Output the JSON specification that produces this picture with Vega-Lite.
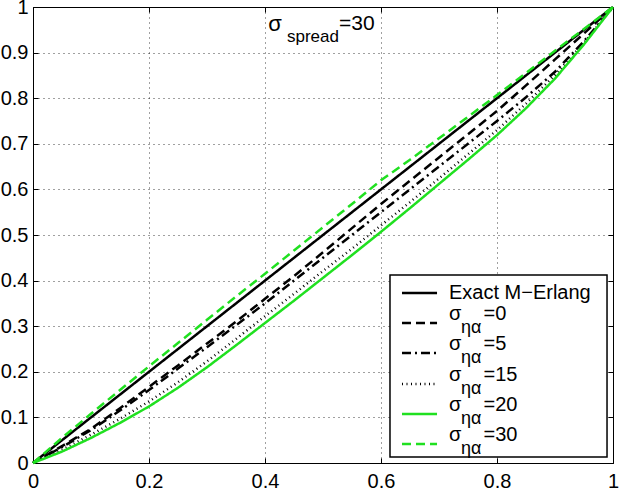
{
  "$schema": "https://vega.github.io/schema/vega-lite/v6.json",
  "width": 580,
  "height": 456,
  "autosize": {"type": "none"},
  "padding": {"left": 33, "top": 7, "right": 7, "bottom": 33},
  "background": "white",
  "config": {
    "font": "Liberation Sans",
    "view": {"stroke": "#000", "strokeWidth": 1},
    "text": {"font": "Liberation Sans", "color": "#000", "baseline": "middle", "align": "left"},
    "axis": {
      "labelFont": "Liberation Sans",
      "labelFontSize": 20,
      "labelColor": "#000",
      "labelFlush": false,
      "labelOverlap": false,
      "format": "~g",
      "domain": false,
      "tickColor": "#000",
      "tickSize": -5,
      "gridColor": "#000",
      "gridDash": [1, 4],
      "gridOpacity": 0.75,
      "title": null
    }
  },
  "datasets": {
    "curves": [
      {"x": 0, "exact": 0, "s0": 0, "s5": 0, "s15": 0, "s20": 0, "s30": 0},
      {"x": 0.05, "exact": 0.05, "s0": 0.037, "s5": 0.035, "s15": 0.029, "s20": 0.025, "s30": 0.055},
      {"x": 0.1, "exact": 0.1, "s0": 0.075, "s5": 0.072, "s15": 0.062, "s20": 0.055, "s30": 0.108},
      {"x": 0.15, "exact": 0.15, "s0": 0.12, "s5": 0.115, "s15": 0.097, "s20": 0.088, "s30": 0.16},
      {"x": 0.2, "exact": 0.2, "s0": 0.167, "s5": 0.16, "s15": 0.135, "s20": 0.124, "s30": 0.212},
      {"x": 0.25, "exact": 0.25, "s0": 0.214, "s5": 0.207, "s15": 0.177, "s20": 0.165, "s30": 0.263},
      {"x": 0.3, "exact": 0.3, "s0": 0.262, "s5": 0.254, "s15": 0.223, "s20": 0.21, "s30": 0.314},
      {"x": 0.35, "exact": 0.35, "s0": 0.31, "s5": 0.302, "s15": 0.272, "s20": 0.258, "s30": 0.365},
      {"x": 0.4, "exact": 0.4, "s0": 0.36, "s5": 0.35, "s15": 0.322, "s20": 0.307, "s30": 0.415},
      {"x": 0.45, "exact": 0.45, "s0": 0.41, "s5": 0.4, "s15": 0.371, "s20": 0.356, "s30": 0.466},
      {"x": 0.5, "exact": 0.5, "s0": 0.462, "s5": 0.45, "s15": 0.421, "s20": 0.406, "s30": 0.517},
      {"x": 0.55, "exact": 0.55, "s0": 0.515, "s5": 0.5, "s15": 0.47, "s20": 0.456, "s30": 0.568},
      {"x": 0.6, "exact": 0.6, "s0": 0.568, "s5": 0.55, "s15": 0.521, "s20": 0.507, "s30": 0.62},
      {"x": 0.65, "exact": 0.65, "s0": 0.619, "s5": 0.6, "s15": 0.572, "s20": 0.559, "s30": 0.665},
      {"x": 0.7, "exact": 0.7, "s0": 0.67, "s5": 0.65, "s15": 0.624, "s20": 0.612, "s30": 0.712},
      {"x": 0.75, "exact": 0.75, "s0": 0.721, "s5": 0.7, "s15": 0.677, "s20": 0.665, "s30": 0.759},
      {"x": 0.8, "exact": 0.8, "s0": 0.772, "s5": 0.75, "s15": 0.73, "s20": 0.719, "s30": 0.807},
      {"x": 0.85, "exact": 0.85, "s0": 0.828, "s5": 0.802, "s15": 0.788, "s20": 0.778, "s30": 0.855},
      {"x": 0.9, "exact": 0.9, "s0": 0.885, "s5": 0.858, "s15": 0.851, "s20": 0.843, "s30": 0.904},
      {"x": 0.95, "exact": 0.95, "s0": 0.942, "s5": 0.925, "s15": 0.922, "s20": 0.918, "s30": 0.952},
      {"x": 1, "exact": 1, "s0": 1, "s5": 1, "s15": 1, "s20": 1, "s30": 1}
    ]
  },
  "data": {"values": [{}]},
  "resolve": {"axis": {"x": "independent", "y": "independent"}},
  "layer": [
    {
      "data": {"name": "curves"},
      "transform": [{"fold": ["exact", "s0", "s5", "s15", "s20", "s30"], "as": ["series", "value"]}],
      "mark": {"type": "line", "strokeWidth": 2.5, "strokeCap": "butt"},
      "encoding": {
        "x": {
          "field": "x", "type": "quantitative",
          "scale": {"domain": [0, 1], "nice": false, "zero": false},
          "axis": {"orient": "bottom", "values": [0, 0.2, 0.4, 0.6, 0.8, 1], "grid": true, "labelPadding": 13}
        },
        "y": {
          "field": "value", "type": "quantitative",
          "scale": {"domain": [0, 1], "nice": false, "zero": false},
          "axis": {"orient": "left", "values": [0, 0.1, 0.2, 0.3, 0.4, 0.5, 0.6, 0.7, 0.8, 0.9, 1], "grid": true, "labelPadding": 10}
        },
        "color": {
          "field": "series", "type": "nominal", "legend": null,
          "scale": {
            "domain": ["exact", "s0", "s5", "s15", "s20", "s30"],
            "range": ["#000000", "#000000", "#000000", "#000000", "#20e020", "#20e020"]
          }
        },
        "strokeDash": {
          "field": "series", "type": "nominal", "legend": null,
          "scale": {
            "domain": ["exact", "s0", "s5", "s15", "s20", "s30"],
            "range": [[1, 0], [9, 5], [9, 4, 2, 4], [1, 3.5], [1, 0], [9, 5]]
          }
        }
      }
    },
    {
      "mark": {"type": "text", "fontSize": 22, "align": "center", "dx": -48},
      "encoding": {
        "text": {"value": "σ"},
        "x": {"datum": 0.5, "type": "quantitative", "axis": {"orient": "top", "values": [0, 0.2, 0.4, 0.6, 0.8, 1], "labels": false, "grid": false}},
        "y": {"datum": 0.963, "type": "quantitative", "axis": {"orient": "right", "values": [0, 0.1, 0.2, 0.3, 0.4, 0.5, 0.6, 0.7, 0.8, 0.9, 1], "labels": false, "grid": false}}
      }
    },
    {
      "mark": {"type": "text", "fontSize": 17, "dx": -36, "dy": 13},
      "encoding": {"text": {"value": "spread"}, "x": {"datum": 0.5, "type": "quantitative", "axis": null}, "y": {"datum": 0.963, "type": "quantitative", "axis": null}}
    },
    {
      "mark": {"type": "text", "fontSize": 21, "dx": 16},
      "encoding": {"text": {"value": "=30"}, "x": {"datum": 0.5, "type": "quantitative", "axis": null}, "y": {"datum": 0.963, "type": "quantitative", "axis": null}}
    },
    {
      "mark": {"type": "rect", "fill": "#fff", "stroke": "#000", "strokeWidth": 1.5},
      "encoding": {
        "x": {"datum": 0.6155, "type": "quantitative", "axis": null}, "x2": {"datum": 0.9897},
        "y": {"datum": 0.4123, "type": "quantitative", "axis": null}, "y2": {"datum": 0.0132}
      }
    },
    {
      "mark": {"type": "rule", "strokeWidth": 2.5, "color": "#000"},
      "encoding": {"x": {"datum": 0.6362, "type": "quantitative", "axis": null}, "x2": {"datum": 0.6966}, "y": {"datum": 0.3728, "type": "quantitative", "axis": null}}
    },
    {
      "mark": {"type": "text", "fontSize": 20},
      "encoding": {"text": {"value": "Exact M−Erlang"}, "x": {"datum": 0.7172, "type": "quantitative", "axis": null}, "y": {"datum": 0.3728, "type": "quantitative", "axis": null}}
    },
    {
      "mark": {"type": "rule", "strokeWidth": 2.5, "color": "#000", "strokeDash": [9, 5]},
      "encoding": {"x": {"datum": 0.6362, "type": "quantitative", "axis": null}, "x2": {"datum": 0.6966}, "y": {"datum": 0.307, "type": "quantitative", "axis": null}}
    },
    {
      "mark": {"type": "text", "fontSize": 20, "dy": -9},
      "encoding": {"text": {"value": "σ\u00a0\u00a0\u00a0\u00a0=0"}, "x": {"datum": 0.7172, "type": "quantitative", "axis": null}, "y": {"datum": 0.307, "type": "quantitative", "axis": null}}
    },
    {
      "mark": {"type": "text", "fontSize": 18, "dx": 12, "dy": 5},
      "encoding": {"text": {"value": "ηα"}, "x": {"datum": 0.7172, "type": "quantitative", "axis": null}, "y": {"datum": 0.307, "type": "quantitative", "axis": null}}
    },
    {
      "mark": {"type": "rule", "strokeWidth": 2.5, "color": "#000", "strokeDash": [9, 4, 2, 4]},
      "encoding": {"x": {"datum": 0.6362, "type": "quantitative", "axis": null}, "x2": {"datum": 0.6966}, "y": {"datum": 0.2412, "type": "quantitative", "axis": null}}
    },
    {
      "mark": {"type": "text", "fontSize": 20, "dy": -9},
      "encoding": {"text": {"value": "σ\u00a0\u00a0\u00a0\u00a0=5"}, "x": {"datum": 0.7172, "type": "quantitative", "axis": null}, "y": {"datum": 0.2412, "type": "quantitative", "axis": null}}
    },
    {
      "mark": {"type": "text", "fontSize": 18, "dx": 12, "dy": 5},
      "encoding": {"text": {"value": "ηα"}, "x": {"datum": 0.7172, "type": "quantitative", "axis": null}, "y": {"datum": 0.2412, "type": "quantitative", "axis": null}}
    },
    {
      "mark": {"type": "rule", "strokeWidth": 2.5, "color": "#000", "strokeDash": [1, 3.5]},
      "encoding": {"x": {"datum": 0.6362, "type": "quantitative", "axis": null}, "x2": {"datum": 0.6966}, "y": {"datum": 0.1732, "type": "quantitative", "axis": null}}
    },
    {
      "mark": {"type": "text", "fontSize": 20, "dy": -9},
      "encoding": {"text": {"value": "σ\u00a0\u00a0\u00a0\u00a0=15"}, "x": {"datum": 0.7172, "type": "quantitative", "axis": null}, "y": {"datum": 0.1732, "type": "quantitative", "axis": null}}
    },
    {
      "mark": {"type": "text", "fontSize": 18, "dx": 12, "dy": 5},
      "encoding": {"text": {"value": "ηα"}, "x": {"datum": 0.7172, "type": "quantitative", "axis": null}, "y": {"datum": 0.1732, "type": "quantitative", "axis": null}}
    },
    {
      "mark": {"type": "rule", "strokeWidth": 2.5, "color": "#20e020"},
      "encoding": {"x": {"datum": 0.6362, "type": "quantitative", "axis": null}, "x2": {"datum": 0.6966}, "y": {"datum": 0.1075, "type": "quantitative", "axis": null}}
    },
    {
      "mark": {"type": "text", "fontSize": 20, "dy": -9},
      "encoding": {"text": {"value": "σ\u00a0\u00a0\u00a0\u00a0=20"}, "x": {"datum": 0.7172, "type": "quantitative", "axis": null}, "y": {"datum": 0.1075, "type": "quantitative", "axis": null}}
    },
    {
      "mark": {"type": "text", "fontSize": 18, "dx": 12, "dy": 5},
      "encoding": {"text": {"value": "ηα"}, "x": {"datum": 0.7172, "type": "quantitative", "axis": null}, "y": {"datum": 0.1075, "type": "quantitative", "axis": null}}
    },
    {
      "mark": {"type": "rule", "strokeWidth": 2.5, "color": "#20e020", "strokeDash": [9, 5]},
      "encoding": {"x": {"datum": 0.6362, "type": "quantitative", "axis": null}, "x2": {"datum": 0.6966}, "y": {"datum": 0.0417, "type": "quantitative", "axis": null}}
    },
    {
      "mark": {"type": "text", "fontSize": 20, "dy": -9},
      "encoding": {"text": {"value": "σ\u00a0\u00a0\u00a0\u00a0=30"}, "x": {"datum": 0.7172, "type": "quantitative", "axis": null}, "y": {"datum": 0.0417, "type": "quantitative", "axis": null}}
    },
    {
      "mark": {"type": "text", "fontSize": 18, "dx": 12, "dy": 5},
      "encoding": {"text": {"value": "ηα"}, "x": {"datum": 0.7172, "type": "quantitative", "axis": null}, "y": {"datum": 0.0417, "type": "quantitative", "axis": null}}
    }
  ]
}
